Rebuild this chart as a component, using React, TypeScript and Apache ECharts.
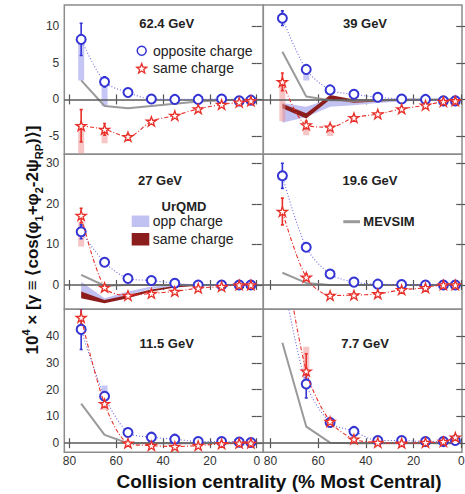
import React, { useEffect, useRef } from "react";
import * as echarts from "echarts";

// ---------------- data ----------------
const centrality = [75, 65, 55, 45, 35, 25, 15, 7.5, 2.5];
const energyLabels = ["62.4 GeV", "39 GeV", "27 GeV", "19.6 GeV", "11.5 GeV", "7.7 GeV"];

const xTicks = [0, 20, 40, 60, 80];
const yTicksRow1 = [-5, 0, 5, 10];
const yTicksRow2 = [0, 10, 20, 30];
const yTicksRow3 = [0, 10, 20, 30, 40];

// 62.4 GeV
const opp62 = [8.2, 2.4, 0.95, 0.05, 0.0, 0.0, 0.05, -0.2, -0.1];
const opp62Err = [2.2, 0.7, 0.3, 0.15, 0.1, 0.1, 0.1, 0.1, 0.1];
const same62 = [-3.6, -4.1, -5.1, -3.0, -2.2, -1.3, -0.7, -0.4, -0.2];
const same62Err = [2.2, 0.8, 0.3, 0.2, 0.15, 0.1, 0.1, 0.1, 0.1];
const mev62 = [2.6, -0.9, -1.2, -0.9, -0.6, -0.3, -0.1, 0, 0];
const sysOpp62 = [[75, 2.6, 8.2], [65, -0.9, 2.4]];
const sysSame62 = [[75, -7.4, -3.6], [65, -6.0, -4.1]];

// 39 GeV
const opp39 = [11.1, 4.1, 1.3, 0.7, 0.3, 0.05, 0, -0.2, -0.2];
const opp39Err = [1.0, 0.4, 0.2, 0.1, 0.1, 0.1, 0.1, 0.1, 0.1];
const same39 = [2.4, -3.5, -3.8, -2.5, -2.0, -1.3, -0.8, -0.3, -0.2];
const same39Err = [1.2, 0.5, 0.3, 0.2, 0.15, 0.1, 0.1, 0.1, 0.1];
const mev39 = [6.5, 0.4, -0.1, -0.2, -0.1, 0, 0, 0, 0];
const sysOpp39 = [[65, 2.6, 4.1]];
const sysSame39 = [[75, -3.0, 2.4], [65, -4.9, -3.5], [55, -5.0, -3.8]];
const urqmdOpp39Lo = [-3.2, -2.4, -1.0, -0.8, -0.5, -0.3, -0.15, -0.1, -0.1];
const urqmdOpp39Hi = [-0.5, -1.0, 0.1, -0.1, -0.1, 0, 0, 0, 0];
const urqmdSame39Lo = [-1.2, -2.6, 0.0, -0.45, -0.3, -0.15, -0.1, -0.05, -0.05];
const urqmdSame39Hi = [-0.6, -1.9, 0.6, 0.0, -0.05, 0, 0, 0, 0];

// 27 GeV
const opp27 = [13.1, 5.6, 1.6, 1.1, 0.4, 0.0, 0.0, 0.0, 0.0];
const opp27Err = [1.7, 0.5, 0.3, 0.2, 0.1, 0.1, 0.1, 0.1, 0.1];
const same27 = [17.1, -0.6, -2.6, -2.1, -1.6, -0.8, -0.4, 0, 0];
const same27Err = [1.8, 0.6, 0.3, 0.2, 0.15, 0.1, 0.1, 0.1, 0.1];
const mev27 = [2.5, -0.2, 0, 0, 0, 0, 0, 0, 0];
const sysOpp27: number[][] = [];
const sysSame27 = [[75, 9.5, 15.5]];
const urqmdOpp27Lo = [-1.6, -4.1, -2.4, -1.0, -0.4, -0.2, -0.1, 0, 0];
const urqmdOpp27Hi = [0.8, -3.3, -1.6, -0.4, -0.1, 0, 0, 0, 0];
const urqmdSame27Lo = [-3.3, -4.5, -3.3, -1.6, -0.6, -0.2, -0.1, 0, 0];
const urqmdSame27Hi = [-1.6, -3.7, -2.5, -1.1, -0.25, 0, 0, 0, 0];

// 19.6 GeV
const opp19 = [26.9, 9.3, 2.7, 0.7, 0.2, 0.1, 0, 0, 0];
const opp19Err = [3.1, 0.6, 0.3, 0.2, 0.1, 0.1, 0.1, 0.1, 0.1];
const same19 = [18.1, 1.9, -2.6, -2.5, -2.2, -1.2, -0.7, 0, 0];
const same19Err = [3.3, 0.8, 0.3, 0.2, 0.15, 0.1, 0.1, 0.1, 0.1];
const mev19 = [3.0, 0.5, 0, 0, 0, 0, 0, 0, 0];
const sysOpp19: number[][] = [];
const sysSame19: number[][] = [];

// 11.5 GeV
const opp11 = [42.5, 17.5, 4.0, 2.25, 1.5, 0.6, 0.6, 0.4, 0.25];
const opp11Err = [7.5, 1.5, 0.5, 0.3, 0.2, 0.2, 0.1, 0.1, 0.1];
const same11 = [46.9, 14.75, 0, -0.9, -1.25, -0.9, -0.25, 0, 0];
const same11Err = [3.5, 1.2, 0.4, 0.3, 0.2, 0.2, 0.1, 0.1, 0.1];
const mev11 = [14.75, 3.1, 0, 0, 0, 0, 0, 0, 0];
const sysOpp11 = [[65, 17.5, 21.5]];
const sysSame11 = [[65, 12.5, 14.75]];

// 7.7 GeV
const opp7 = [63, 22.1, 7.75, 4.4, 1.0, 1.0, 0.6, 0.6, 1.0];
const opp7Err = [8, 5.2, 1.5, 0.5, 0.3, 0.3, 0.2, 0.2, 0.3];
const same7 = [76, 26.9, 8.1, 1.5, 0.25, 0, 0.25, 0.6, 2.25];
const same7Err = [9, 6.5, 1.2, 0.5, 0.3, 0.3, 0.2, 0.2, 0.6];
const mev7 = [37.5, 6.2, 0.2, 0, 0, 0, 0, 0, 0];
const sysOpp7 = [[65, 22.1, 25]];
const sysSame7 = [[65, 26.9, 36]];

// ---------------- layout / style ----------------
const colLeft = [64.3, 263.3];
const colWidth = [199, 198.7];
const rowTop = [5, 154.3, 309.3];
const rowHeight = [149.3, 155, 143];
const xRanges = [[-2.8, 82.2], [-0.3, 83]];
const yRanges = [[-7.5, 12.9], [-6, 32.2], [-3.4, 50]];
const yTickSets = [yTicksRow1, yTicksRow2, yTicksRow3];

const BLUE = "#3434d4";
const BLUE_LINE = "#6b6be6";
const RED = "#e8302a";
const SYS_BLUE = "rgba(160,160,240,0.6)";
const SYS_RED = "rgba(240,150,150,0.55)";
const BAND_BLUE = "#c2c2f2";
const BAND_RED = "#8c1d1d";
const GRAY = "#9a9a9a";
const FONT = "'Liberation Sans', Arial, Helvetica, sans-serif";
const STAR = "path://M50,2 L61.8,36.2 L97.6,36.2 L68.6,57.4 L79.6,91.6 L50,70.4 L20.4,91.6 L31.4,57.4 L2.4,36.2 L38.2,36.2 Z";

type Panel = {
  opp: number[]; oppErr: number[]; same: number[]; sameErr: number[]; mev: number[];
  sysOpp: number[][]; sysSame: number[][];
  bandOpp?: [number[], number[]]; bandSame?: [number[], number[]];
};

const panels: Panel[] = [
  { opp: opp62, oppErr: opp62Err, same: same62, sameErr: same62Err, mev: mev62, sysOpp: sysOpp62, sysSame: sysSame62 },
  { opp: opp39, oppErr: opp39Err, same: same39, sameErr: same39Err, mev: mev39, sysOpp: sysOpp39, sysSame: sysSame39,
    bandOpp: [urqmdOpp39Lo, urqmdOpp39Hi], bandSame: [urqmdSame39Lo, urqmdSame39Hi] },
  { opp: opp27, oppErr: opp27Err, same: same27, sameErr: same27Err, mev: mev27, sysOpp: sysOpp27, sysSame: sysSame27,
    bandOpp: [urqmdOpp27Lo, urqmdOpp27Hi], bandSame: [urqmdSame27Lo, urqmdSame27Hi] },
  { opp: opp19, oppErr: opp19Err, same: same19, sameErr: same19Err, mev: mev19, sysOpp: sysOpp19, sysSame: sysSame19 },
  { opp: opp11, oppErr: opp11Err, same: same11, sameErr: same11Err, mev: mev11, sysOpp: sysOpp11, sysSame: sysSame11 },
  { opp: opp7, oppErr: opp7Err, same: same7, sameErr: same7Err, mev: mev7, sysOpp: sysOpp7, sysSame: sysSame7 },
];

function bandSeries(gi: number, lo: number[], hi: number[], color: string) {
  const rows = centrality.map((c, i) => [c, lo[i], hi[i]]);
  return {
    type: "custom", xAxisIndex: 2 * gi, yAxisIndex: 2 * gi, clip: true, silent: true, z: 1,
    data: rows, encode: { x: 0, y: [1, 2] },
    renderItem: (params: any, api: any) => {
      if (params.dataIndex !== 0) return { type: "group", children: [] };
      const upper = rows.map((r) => api.coord([r[0], r[2]]));
      const lower = rows.map((r) => api.coord([r[0], r[1]])).reverse();
      return { type: "polygon", shape: { points: upper.concat(lower) }, style: { fill: color } };
    },
  };
}

function sysSeries(gi: number, rows: number[][], color: string) {
  return {
    type: "custom", xAxisIndex: 2 * gi, yAxisIndex: 2 * gi, clip: true, silent: true, z: 2,
    data: rows, encode: { x: 0, y: [1, 2] },
    renderItem: (params: any, api: any) => {
      const a = api.coord([api.value(0), api.value(1)]);
      const b = api.coord([api.value(0), api.value(2)]);
      return { type: "rect", shape: { x: a[0] - 3, y: b[1], width: 6, height: a[1] - b[1] }, style: { fill: color } };
    },
  };
}

function errSeries(gi: number, vals: number[], errs: number[], color: string) {
  const rows = centrality.map((c, i) => [c, vals[i] - errs[i], vals[i] + errs[i]]);
  return {
    type: "custom", xAxisIndex: 2 * gi, yAxisIndex: 2 * gi, clip: true, silent: true, z: 4,
    data: rows, encode: { x: 0, y: [1, 2] },
    renderItem: (params: any, api: any) => {
      const a = api.coord([api.value(0), api.value(1)]);
      const b = api.coord([api.value(0), api.value(2)]);
      return {
        type: "group",
        children: [
          { type: "line", shape: { x1: a[0], y1: a[1], x2: b[0], y2: b[1] }, style: { stroke: color, lineWidth: 1.6 } },
          { type: "line", shape: { x1: a[0] - 1.5, y1: a[1], x2: a[0] + 1.5, y2: a[1] }, style: { stroke: color, lineWidth: 1.6 } },
          { type: "line", shape: { x1: b[0] - 1.5, y1: b[1], x2: b[0] + 1.5, y2: b[1] }, style: { stroke: color, lineWidth: 1.6 } },
        ],
      };
    },
  };
}

function buildOption() {
  const grid: any[] = [];
  const xAxis: any[] = [];
  const yAxis: any[] = [];
  const series: any[] = [];

  panels.forEach((p, gi) => {
    const col = gi % 2;
    const row = Math.floor(gi / 2);
    grid.push({
      left: colLeft[col], top: rowTop[row], width: colWidth[col], height: rowHeight[row],
      containLabel: false, outerBoundsMode: "none",
      show: true, borderColor: "#8c8c8c", borderWidth: 1.5, backgroundColor: "transparent",
    });
    const xr = xRanges[col];
    const yr = yRanges[row];
    const tickStyle = { show: true, inside: true, length: 5, lineStyle: { color: "#555", width: 1.2 } };
    xAxis.push({
      type: "value", gridIndex: gi, min: xr[0], max: xr[1], inverse: true, position: "bottom",
      axisLine: { show: false }, splitLine: { show: false },
      axisTick: { ...tickStyle, customValues: xTicks },
      axisLabel: { show: row === 2, customValues: xTicks, fontSize: 12, color: "#333", margin: 3, fontFamily: FONT,
        showMinLabel: true, showMaxLabel: true, hideOverlap: false },
    });
    xAxis.push({
      type: "value", gridIndex: gi, min: xr[0], max: xr[1], inverse: true, position: "top",
      axisLine: { show: false }, splitLine: { show: false },
      axisTick: { ...tickStyle, customValues: xTicks }, axisLabel: { show: false },
    });
    const yt = yTickSets[row];
    yAxis.push({
      type: "value", gridIndex: gi, min: yr[0], max: yr[1], position: "left",
      axisLine: { show: false }, splitLine: { show: false },
      axisTick: { ...tickStyle, customValues: yt },
      axisLabel: { show: col === 0, customValues: yt, fontSize: 12, color: "#333", margin: 5, fontFamily: FONT },
    });
    yAxis.push({
      type: "value", gridIndex: gi, min: yr[0], max: yr[1], position: "right",
      axisLine: { show: false }, splitLine: { show: false },
      axisTick: { ...tickStyle, customValues: yt }, axisLabel: { show: false },
    });

    const xi = 2 * gi;
    if (p.bandOpp) series.push(bandSeries(gi, p.bandOpp[0], p.bandOpp[1], BAND_BLUE));
    if (p.bandSame) series.push(bandSeries(gi, p.bandSame[0], p.bandSame[1], BAND_RED));
    if (p.sysOpp.length) series.push(sysSeries(gi, p.sysOpp, SYS_BLUE));
    if (p.sysSame.length) series.push(sysSeries(gi, p.sysSame, SYS_RED));
    series.push({
      type: "line", xAxisIndex: xi, yAxisIndex: xi, z: 3, silent: true, showSymbol: false, symbol: "none",
      data: centrality.map((c, i) => [c, p.mev[i]]),
      lineStyle: { color: GRAY, width: 2 },
      markLine: {
        silent: true, symbol: ["none", "none"], label: { show: false },
        lineStyle: { color: "#5a5a5a", width: 1.5, type: "solid" },
        data: [{ yAxis: 0 }],
      },
    });
    series.push(errSeries(gi, p.opp, p.oppErr, BLUE));
    series.push(errSeries(gi, p.same, p.sameErr, RED));
    series.push({
      type: "line", xAxisIndex: xi, yAxisIndex: xi, z: 5, silent: true,
      data: centrality.map((c, i) => [c, p.opp[i]]),
      smooth: 0.3, symbol: "emptyCircle", symbolSize: 9,
      itemStyle: { color: BLUE, borderWidth: 1.5 },
      lineStyle: { color: BLUE_LINE, width: 1.1, type: [1, 2] },
    });
    series.push({
      type: "line", xAxisIndex: xi, yAxisIndex: xi, z: 6, silent: true,
      data: centrality.map((c, i) => [c, p.same[i]]),
      smooth: 0.3, symbol: STAR, symbolSize: 10, symbolKeepAspect: true,
      itemStyle: { color: "#fff", borderColor: RED, borderWidth: 1.3 },
      lineStyle: { color: RED, width: 1.1, type: [4, 2, 1, 2] },
    });
  });

  const titlePos = [[166.7, 23], [365, 23], [160, 180], [370, 180], [166.7, 343], [365, 343]];
  const graphic: any[] = energyLabels.map((t, i) => ({
    type: "text", x: titlePos[i][0], y: titlePos[i][1], z: 100,
    style: { text: t, fontSize: 13, fontWeight: "bold", fontFamily: FONT, fill: "#222", align: "center", verticalAlign: "middle" },
  }));

  // legend star points (icon only)
  const starPts: number[][] = [];
  for (let k = 0; k < 10; k++) {
    const r = k % 2 === 0 ? 5.2 : 2.2;
    const a = -Math.PI / 2 + (k * Math.PI) / 5;
    starPts.push([141.7 + r * Math.cos(a), 68.8 + r * Math.sin(a)]);
  }
  const legText = (t: string, x: number, y: number, bold = false, size = 14) => ({
    type: "text", x, y, z: 100,
    style: { text: t, fontSize: size, fontWeight: bold ? "bold" : "normal", fontFamily: FONT, fill: "#222", align: "left", verticalAlign: "middle" },
  });
  graphic.push(
    { type: "circle", z: 100, shape: { cx: 141.7, cy: 50.7, r: 4.5 }, style: { fill: "#fff", stroke: BLUE, lineWidth: 1.5 } },
    legText("opposite charge", 153, 50.7),
    { type: "polygon", z: 100, shape: { points: starPts }, style: { fill: "#fff", stroke: RED, lineWidth: 1.3 } },
    legText("same charge", 153, 68.3),
    { type: "text", x: 184, y: 206.7, z: 100,
      style: { text: "UrQMD", fontSize: 13, fontWeight: "bold", fontFamily: FONT, fill: "#222", align: "center", verticalAlign: "middle" } },
    { type: "rect", z: 100, shape: { x: 131.7, y: 215.5, width: 17.6, height: 11.5 }, style: { fill: BAND_BLUE } },
    legText("opp charge", 152.7, 221),
    { type: "rect", z: 100, shape: { x: 131.7, y: 233, width: 17.6, height: 12.5 }, style: { fill: BAND_RED } },
    legText("same charge", 152.7, 239),
    { type: "line", z: 100, shape: { x1: 343.3, y1: 221.7, x2: 360, y2: 221.7 }, style: { stroke: GRAY, lineWidth: 3 } },
    legText("MEVSIM", 363.3, 221.7, true, 13),
    { type: "text", x: 279, y: 481, z: 100,
      style: { text: "Collision centrality (% Most Central)", fontSize: 19, fontWeight: "bold", fontFamily: FONT, fill: "#111", align: "center", verticalAlign: "middle" } },
    { type: "text", x: 32, y: 240, z: 100, rotation: Math.PI / 2,
      style: {
        text: "{a|10}{sup|4}{a| × [γ ≡ ⟨cos(φ}{sub|1}{a|+φ}{sub|2}{a|-2ψ}{sub|RP}{a|)⟩]}",
        align: "center", verticalAlign: "middle",
        rich: {
          a: { fontSize: 17, fontWeight: "bold", fontFamily: FONT, fill: "#111", lineHeight: 24 },
          sup: { fontSize: 11, fontWeight: "bold", fontFamily: FONT, fill: "#111", verticalAlign: "top", lineHeight: 24 },
          sub: { fontSize: 11, fontWeight: "bold", fontFamily: FONT, fill: "#111", verticalAlign: "bottom", lineHeight: 24 },
        },
      } },
  );

  return { animation: false, backgroundColor: "#fff", grid, xAxis, yAxis, series, graphic };
}

export default function App() {
  const ref = useRef<HTMLDivElement>(null);
  useEffect(() => {
    const chart = echarts.init(ref.current!, null, { renderer: "svg" });
    chart.setOption(buildOption() as any);
    return () => chart.dispose();
  }, []);
  return <div ref={ref} style={{ position: "fixed", left: 0, top: 0, width: 465, height: 494, background: "#fff" }} />;
}
